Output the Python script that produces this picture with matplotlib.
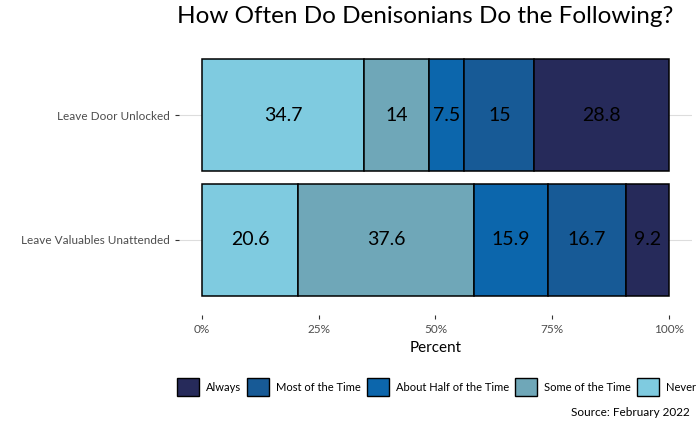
import matplotlib.pyplot as plt
from matplotlib.patches import Patch

plt.rcParams['font.family'] = ['Lato', 'DejaVu Sans']

questions = ['Leave Door Unlocked', 'Leave Valuables Unattended']
responses = ['Never', 'Some of the Time', 'About Half of the Time', 'Most of the Time', 'Always']
colors = ['#7fcbe0', '#6fa7b8', '#0c66ac', '#175a96', '#262a5a']
door = [34.7, 14, 7.5, 15, 28.8]
valuables = [20.6, 37.6, 15.9, 16.7, 9.2]

fig = plt.figure(figsize=(7, 4.32), dpi=100)
ax = fig.add_axes([0.255, 0.271, 0.734, 0.636])

ypos = [1, 2]
for y, vals in zip(ypos, [door, valuables]):
    left = 0
    for v, c in zip(vals, colors):
        ax.barh(y, v, left=left, height=0.9, color=c, edgecolor='black', linewidth=1.1, zorder=2)
        ax.text(left + v / 2, y, f'{v:g}', ha='center', va='center', fontsize=14, color='black', zorder=3)
        left += v

ax.set_xlim(-5, 105)
ax.set_ylim(2.6, 0.4)
ax.set_xticks([0, 25, 50, 75, 100])
ax.set_xticklabels(['0%', '25%', '50%', '75%', '100%'], color='#4d4d4d', fontsize=8.5)
ax.set_yticks(ypos)
ax.set_yticklabels(questions, color='#4d4d4d', fontsize=8.5)
ax.tick_params(length=3, width=0.8, colors='#333333', labelcolor='#4d4d4d')
ax.grid(axis='y', color='#dddddd', linewidth=0.8, zorder=0)
for s in ax.spines.values():
    s.set_visible(False)
ax.set_xlabel('Percent', fontsize=11, labelpad=4)

fig.suptitle('How Often Do Denisonians Do the Following?', x=0.607, y=0.985, fontsize=17.5)

handles = [Patch(facecolor=c, edgecolor='black', label=r) for r, c in zip(responses, colors)][::-1]
fig.legend(handles=handles, loc='center right', bbox_to_anchor=(1.005, 0.104), ncol=5, frameon=False,
           fontsize=8, handlelength=2.0, handleheight=2.0, handletextpad=0.6, columnspacing=0.55,
           borderpad=0.2)

fig.text(0.985, 0.045, 'Source: February 2022', ha='right', va='center', fontsize=8.5)

fig.savefig('out.png', dpi=100)
